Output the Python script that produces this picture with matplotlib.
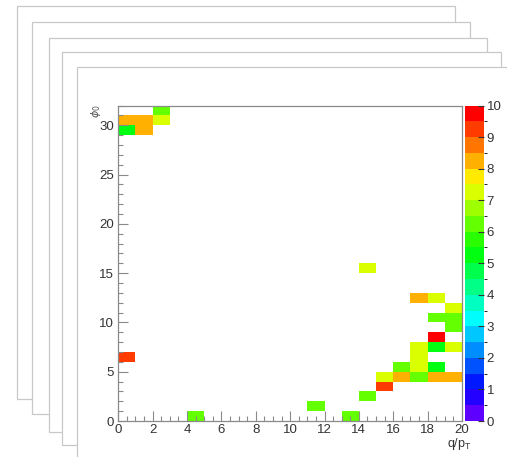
import numpy as np
import matplotlib.pyplot as plt
from matplotlib.colors import ListedColormap, BoundaryNorm, hsv_to_rgb
from matplotlib.patches import Rectangle

plt.rcParams['font.family'] = ['Liberation Sans', 'DejaVu Sans']

W, H = 507, 457

# filled bins: lower edge in q/pT, lower edge in phi0, bin content
bin_x = [0, 1, 0, 1, 2, 2, 0, 14, 4, 11, 13, 14, 15, 15, 16, 17, 18, 19,
         16, 17, 18, 17, 17, 18, 19, 18, 19, 18, 19, 19, 17, 18]
bin_y = [30, 30, 29, 29, 31, 30, 6, 15, 0, 1, 0, 2, 3, 4, 4, 4, 4, 4,
         5, 5, 5, 6, 7, 7, 7, 8, 9, 10, 10, 11, 12, 12]
counts = [8.25, 8.25, 5.25, 8.25, 6.25, 7.25, 9.25, 7.25, 6.25, 6.25, 6.25, 6.25, 9.25, 7.25, 8.25, 6.25, 8.25, 8.25,
          6.25, 7.25, 5.25, 7.25, 7.25, 5.25, 7.25, 9.75, 6.25, 6.25, 6.25, 7.25, 8.25, 7.25]

x_edges = np.arange(0, 21, 1)
y_edges = np.arange(0, 33, 1)
z_levels = np.arange(0, 10.5, 0.5)

grid = np.full((len(y_edges) - 1, len(x_edges) - 1), np.nan)
for bx, by, c in zip(bin_x, bin_y, counts):
    grid[by, bx] = c
grid = np.ma.masked_invalid(grid)

# old ROOT rainbow palette, 20 contour bands
n_bands = len(z_levels) - 1
hues = 262.0 / 360.0 * (1 - np.arange(n_bands) / (n_bands - 1))
palette = hsv_to_rgb(np.stack([hues, np.ones(n_bands), np.ones(n_bands)], axis=1))
cmap = ListedColormap(palette)
norm = BoundaryNorm(z_levels, cmap.N)

fig = plt.figure(figsize=(W / 100, H / 100), dpi=100)


def frac(l, t, r, b):
    return (l / W, 1 - b / H, (r - l) / W, (b - t) / H)


# stacked canvases behind the front pad
for l, t, r, b in [(17, 6, 455, 399), (32, 22, 470, 414), (49, 38, 487, 432),
                   (62, 52, 501, 445), (77, 67, 512, 462)]:
    x0, y0, w, h = frac(l, t, r, b)
    fig.patches.append(Rectangle((x0, y0), w, h, transform=fig.transFigure,
                                 facecolor='white', edgecolor='#c8c8c8', lw=0.9))

ax = fig.add_axes(frac(118.3, 105.5, 462, 421))
ax.set_zorder(10)
ax.set_facecolor('white')
ax.pcolormesh(x_edges, y_edges, grid, cmap=cmap, norm=norm)
ax.set_xlim(0, 20)
ax.set_ylim(0, 32)

axis_col = '#8a8a8a'
for s in ax.spines.values():
    s.set_color(axis_col)
    s.set_linewidth(0.9)

ax.set_xticks(np.arange(0, 21, 2))
ax.set_xticks(np.arange(0, 20.01, 0.5), minor=True)
ax.set_yticks(np.arange(0, 31, 5))
ax.set_yticks(np.arange(0, 32.01, 1), minor=True)
ax.tick_params(which='both', direction='in', color=axis_col, width=0.8,
               labelsize=9.5, labelcolor='#333333')
ax.tick_params(which='major', length=7)
ax.tick_params(which='minor', length=3.6)
ax.tick_params(axis='x', pad=2)
ax.tick_params(axis='y', pad=3)

fig.text(472 / W, 1 - 444 / H, 'q/p$_\\mathregular{T}$', ha='right', va='center',
         fontsize=9, color='#333333', zorder=20)
fig.text(96 / W, 1 - 111 / H, r'$\phi_0$', rotation=90, ha='center', va='center',
         fontsize=8, color='#555555', zorder=20)

cax = fig.add_axes(frac(465, 105.5, 484, 421))
cax.set_zorder(10)
cb = fig.colorbar(ax.collections[0], cax=cax, ticks=np.arange(0, 11, 1))
cb.outline.set_visible(False)
cax.tick_params(direction='in', length=4.5, width=0.8, color='#333333',
                labelsize=9.5, labelcolor='#333333', pad=2)

fig.savefig('out.png', dpi=100)
